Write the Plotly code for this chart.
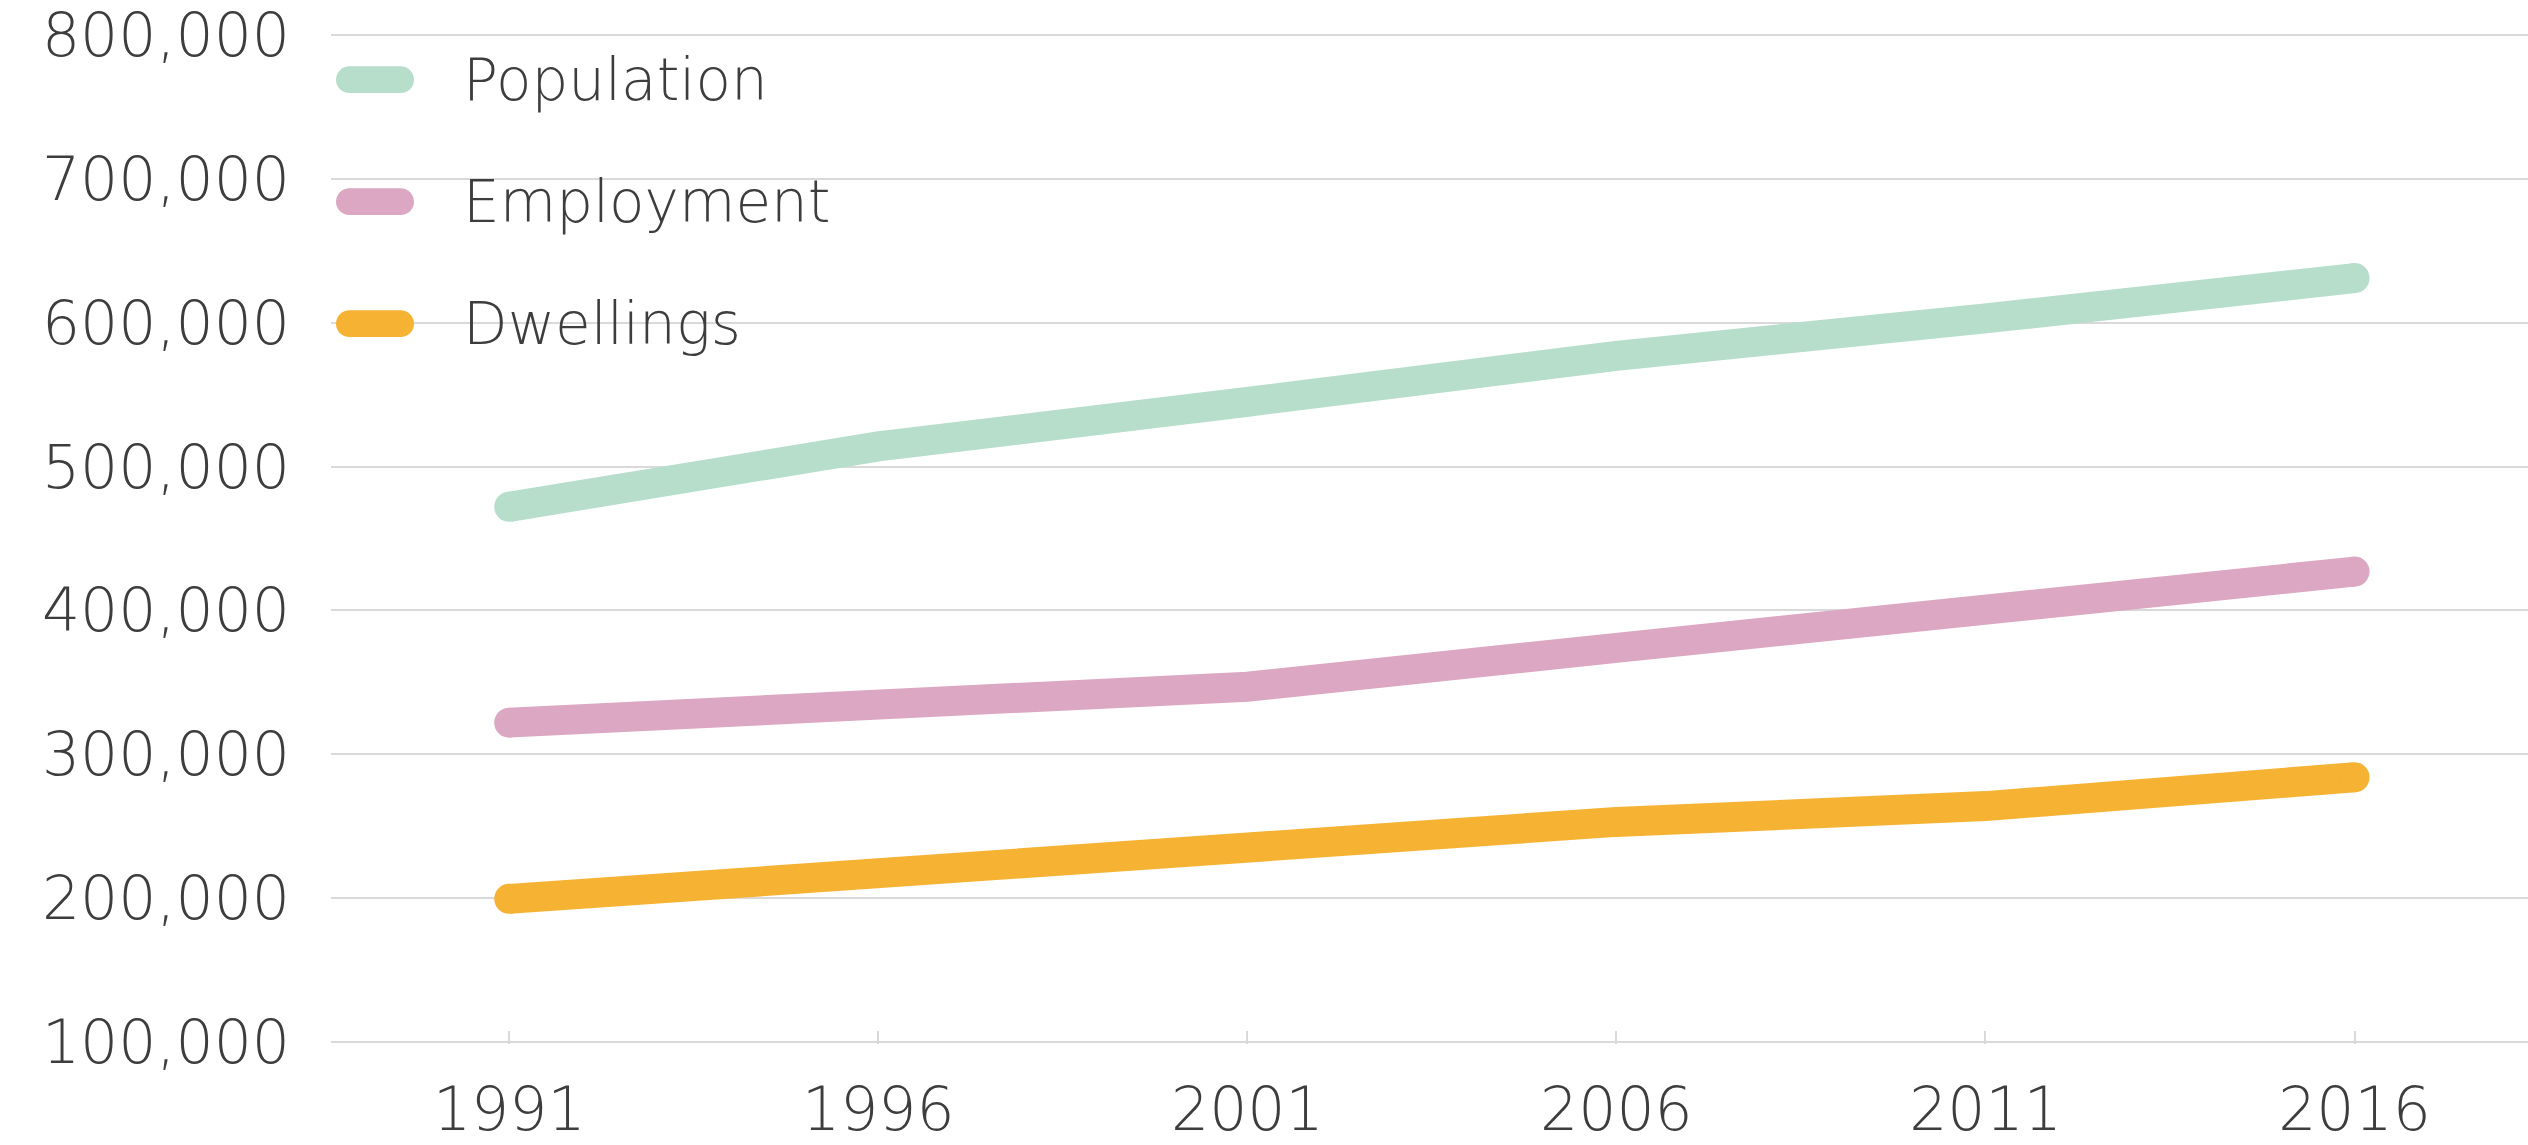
import plotly.graph_objects as go

years = [1991, 1996, 2001, 2006, 2011, 2016]
year_labels = ["1991", "1996", "2001", "2006", "2011", "2016"]
population = [472000, 514000, 545000, 577000, 603000, 631000]
employment = [322000, 334000, 347000, 374000, 398000, 427000]
dwellings = [199500, 218000, 236000, 253000, 264000, 284000]
y_ticks = [100000, 200000, 300000, 400000, 500000, 600000, 700000, 800000]

series_names = ["Population", "Employment", "Dwellings"]
series_values = [population, employment, dwellings]
series_colors = ["#b7ddcb", "#dca7c2", "#f5b233"]

FONT = "DejaVu Sans"
TXT = "#3d3d3d"
GRID = "#d9d9d9"
FS_LEG = 58
FS_TICK = 60

# figure geometry (pixels)
W, H = 2528, 1145
L, R, T, B = 331, 0, 25, 101
PW, PH = W - L - R, H - T - B
Y_LO, Y_HI = 100000, 800000
per_px = (Y_HI - Y_LO) / (PH - 4)        # keep 2 px of room at both ends
y_range = [Y_LO - 2 * per_px, Y_HI + 2 * per_px]


def px_to_paper_x(px):
    return (px - L) / PW


def px_to_paper_y(py):
    return (H - B - py) / PH


fig = go.Figure()
for name, vals, col in zip(series_names, series_values, series_colors):
    n = len(vals)
    sizes = [30 if i in (0, n - 1) else 0 for i in range(n)]
    fig.add_trace(go.Scatter(
        x=years, y=vals, name=name, mode="lines+markers",
        line=dict(color=col, width=30),
        marker=dict(color=col, size=sizes, opacity=1, line=dict(width=0)),
        showlegend=False,
    ))

# legend drawn as pill-shaped swatches + text
shapes = []
annotations = []
legend_rows_px = [72, 195, 318]
sw_x0, sw_x1, sw_h = 336, 414, 27
K = 0.5523
for name, col, cy in zip(series_names, series_colors, legend_rows_px):
    r = sw_h / 2
    x0, x1 = px_to_paper_x(sw_x0), px_to_paper_x(sw_x1)
    yb, yt = px_to_paper_y(cy + r), px_to_paper_y(cy - r)
    ym = px_to_paper_y(cy)
    rx, ry = r / PW, r / PH
    path = (
        f"M {x0 + rx},{yb} L {x1 - rx},{yb} "
        f"C {x1 - rx + K * rx},{yb} {x1},{ym - K * ry} {x1},{ym} "
        f"C {x1},{ym + K * ry} {x1 - rx + K * rx},{yt} {x1 - rx},{yt} "
        f"L {x0 + rx},{yt} "
        f"C {x0 + rx - K * rx},{yt} {x0},{ym + K * ry} {x0},{ym} "
        f"C {x0},{ym - K * ry} {x0 + rx - K * rx},{yb} {x0 + rx},{yb} Z"
    )
    shapes.append(dict(type="path", xref="paper", yref="paper", path=path,
                       fillcolor=col, line=dict(width=0), layer="above"))
    annotations.append(dict(
        xref="paper", yref="paper", x=px_to_paper_x(461), y=ym,
        xanchor="left", yanchor="middle", text=name, showarrow=False,
        font=dict(family=FONT, size=FS_LEG, color=TXT, weight=300),
    ))

fig.update_layout(
    width=W, height=H,
    margin=dict(l=L, r=R, t=T, b=B, pad=0),
    paper_bgcolor="white", plot_bgcolor="white",
    font=dict(family=FONT, size=FS_TICK, color=TXT, weight=300),
    showlegend=False,
    shapes=shapes,
    annotations=annotations,
    xaxis=dict(
        range=[1988.585, 2018.35],
        tickvals=years, ticktext=year_labels,
        showgrid=False, zeroline=False,
        showline=False,
        ticks="inside", ticklen=13, tickwidth=2, tickcolor=GRID,
        ticklabelstandoff=25,
        tickfont=dict(family=FONT, size=FS_TICK, color=TXT, weight=300),
    ),
    yaxis=dict(
        range=y_range,
        tickvals=y_ticks, tickformat=",d",
        showgrid=True, gridcolor=GRID, gridwidth=2,
        zeroline=False, showline=False, ticks="",
        ticklabelstandoff=40, ticklabeloverflow="allow",
        tickfont=dict(family=FONT, size=FS_TICK, color=TXT, weight=300),
    ),
)

fig.write_html("out.html", config={"displayModeBar": False},
               post_script="document.body.style.margin='0';")
